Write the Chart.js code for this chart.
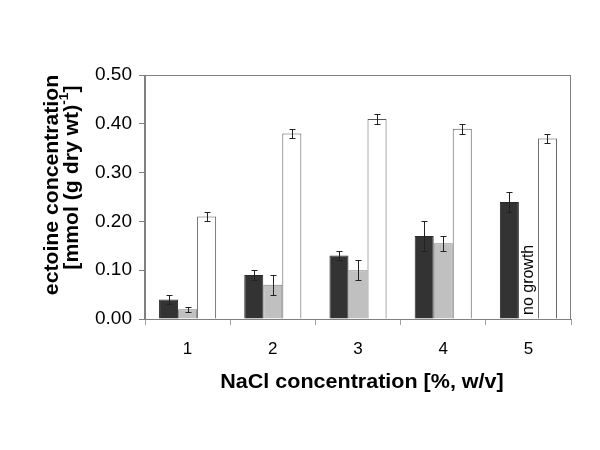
<!DOCTYPE html>
<html>
<head>
<meta charset="utf-8">
<script src="https://cdn.jsdelivr.net/npm/chart.js@4/dist/chart.umd.min.js"></script>
<style>
  html, body { margin: 0; padding: 0; background: #fff; }
  #wrap { width: 600px; height: 450px; }
</style>
</head>
<body>
<div id="wrap"><canvas id="chart" width="600" height="450"></canvas></div>
<script>
// NaCl concentration categories
const categories = ['1', '2', '3', '4', '5'];

// three series (dark, grey, white) with their error bars
const darkValues = [0.04, 0.09, 0.13, 0.17, 0.24];
const darkErrors = [0.01, 0.01, 0.01, 0.03, 0.02];
const greyValues = [0.02, 0.07, 0.10, 0.155, null];
const greyErrors = [0.005, 0.02, 0.02, 0.015, null];
const whiteValues = [0.21, 0.38, 0.41, 0.39, 0.37];
const whiteErrors = [0.01, 0.01, 0.01, 0.01, 0.01];

const yMin = 0;
const yMax = 0.5;
const yStep = 0.1;

const FONT = '"Liberation Sans", Arial, sans-serif';

// error bars, plot frame, axis titles and the "no growth" note
const extrasPlugin = {
    id: 'extras',
    afterDatasetsDraw(chart) {
        const ctx = chart.ctx;
        const yScale = chart.scales.y;
        const errors = [darkErrors, greyErrors, whiteErrors];

        ctx.save();
        ctx.strokeStyle = '#222';
        ctx.lineWidth = 1;
        chart.data.datasets.forEach((ds, i) => {
            const meta = chart.getDatasetMeta(i);
            meta.data.forEach((bar, j) => {
                const v = ds.data[j];
                const e = errors[i][j];
                if (v == null || e == null) return;
                const x = Math.round(bar.x) + 0.5;
                const yTop = Math.round(yScale.getPixelForValue(v + e)) + 0.5;
                const yBot = Math.round(yScale.getPixelForValue(v - e)) + 0.5;
                ctx.beginPath();
                ctx.moveTo(x, yTop);
                ctx.lineTo(x, yBot);
                ctx.moveTo(x - 3, yTop);
                ctx.lineTo(x + 3, yTop);
                ctx.moveTo(x - 3, yBot);
                ctx.lineTo(x + 3, yBot);
                ctx.stroke();
            });
        });

        // "no growth" where the grey bar is missing
        const greyMeta = chart.getDatasetMeta(1);
        greyValues.forEach((v, j) => {
            if (v != null) return;
            const bar = greyMeta.data[j];
            ctx.save();
            ctx.translate(bar.x, yScale.getPixelForValue(0) - 4);
            ctx.rotate(-Math.PI / 2);
            ctx.fillStyle = '#000';
            ctx.font = '16px ' + FONT;
            ctx.textAlign = 'left';
            ctx.textBaseline = 'middle';
            ctx.fillText('no growth', 0, 0);
            ctx.restore();
        });
        ctx.restore();
    },
    afterDraw(chart) {
        const ctx = chart.ctx;
        const area = chart.chartArea;

        ctx.save();
        // frame round the plot
        ctx.strokeStyle = '#808080';
        ctx.lineWidth = 1;
        ctx.strokeRect(Math.round(area.left) - 0.5, Math.round(area.top) + 0.5,
            Math.round(area.right - area.left), Math.round(area.bottom - area.top));

        ctx.fillStyle = '#000';
        ctx.textAlign = 'center';
        ctx.textBaseline = 'middle';

        // x title
        ctx.save();
        ctx.translate(362, 382);
        ctx.scale(1.05, 1);
        ctx.font = 'bold 20.5px ' + FONT;
        ctx.fillText('NaCl concentration [%, w/v]', 0, 0);
        ctx.restore();

        // y title, two lines with superscript
        ctx.translate(52, 185);
        ctx.rotate(-Math.PI / 2);
        ctx.scale(1.06, 1);
        ctx.font = 'bold 20px ' + FONT;
        ctx.fillText('ectoine concentration', 0, 0);

        const main = '[mmol (g dry wt)';
        const sup = '-1';
        const end = ']';
        const wMain = ctx.measureText(main).width;
        const wEnd = ctx.measureText(end).width;
        ctx.font = 'bold 13px ' + FONT;
        const wSup = ctx.measureText(sup).width;
        let x = 7 - (wMain + wSup + wEnd) / 2;
        ctx.textAlign = 'left';
        ctx.font = 'bold 20px ' + FONT;
        ctx.fillText(main, x, 20);
        x += wMain;
        ctx.font = 'bold 13px ' + FONT;
        ctx.fillText(sup, x, 12);
        x += wSup;
        ctx.font = 'bold 20px ' + FONT;
        ctx.fillText(end, x, 20);
        ctx.restore();
    }
};

const ctx = document.getElementById('chart').getContext('2d');
new Chart(ctx, {
    type: 'bar',
    data: {
        labels: categories,
        datasets: [
            {
                data: darkValues,
                backgroundColor: '#333333',
                borderColor: '#2a2a2a',
                borderWidth: 1
            },
            {
                data: greyValues,
                backgroundColor: '#c0c0c0',
                borderColor: '#808080',
                borderWidth: 1
            },
            {
                data: whiteValues,
                backgroundColor: '#ffffff',
                borderColor: '#555555',
                borderWidth: 1
            }
        ]
    },
    options: {
        responsive: false,
        animation: false,
        events: [],
        layout: {
            padding: { top: 75, right: 29, bottom: 0, left: 0 }
        },
        datasets: {
            bar: {
                categoryPercentage: 0.67,
                barPercentage: 1.0
            }
        },
        plugins: {
            legend: { display: false },
            tooltip: { enabled: false }
        },
        scales: {
            x: {
                afterFit(scale) { scale.height = 131; },
                grid: {
                    offset: true,
                    drawOnChartArea: false,
                    drawTicks: true,
                    tickLength: 6,
                    color: '#a0a0a0'
                },
                border: { display: true, color: '#808080' },
                ticks: {
                    color: '#000',
                    padding: 14,
                    font: { family: FONT, size: 17 }
                }
            },
            y: {
                min: yMin,
                max: yMax,
                afterFit(scale) { scale.width = 145; },
                grid: {
                    drawOnChartArea: false,
                    drawTicks: true,
                    tickLength: 6,
                    color: '#808080'
                },
                border: { display: true, color: '#808080' },
                ticks: {
                    stepSize: yStep,
                    color: '#000',
                    padding: 7,
                    font: { family: FONT, size: 19 },
                    callback: (v) => Number(v).toFixed(2)
                }
            }
        }
    },
    plugins: [extrasPlugin]
});
</script>
</body>
</html>
